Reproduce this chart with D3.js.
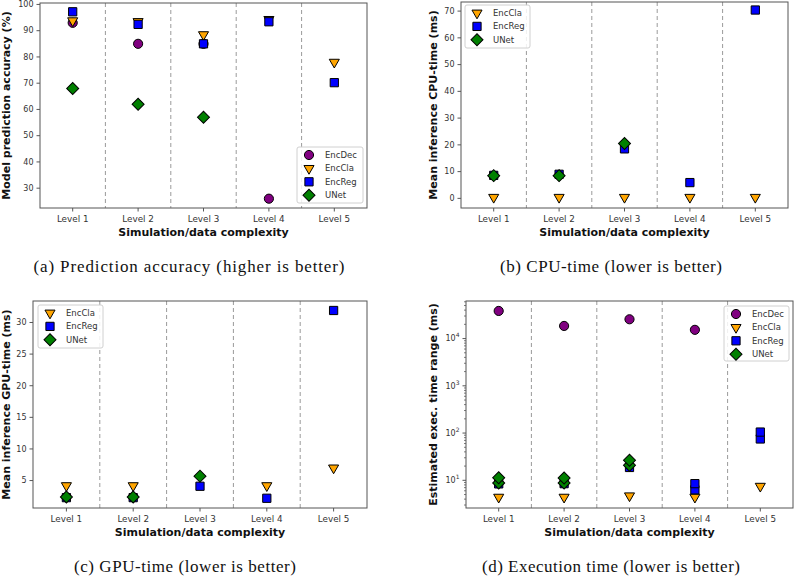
<!DOCTYPE html>
<html><head><meta charset="utf-8">
<script src="https://cdn.jsdelivr.net/npm/d3@7"></script>
<style>body{margin:0;background:#fff}svg{display:block}</style>
</head><body>
<script>
// ---------------- DATA ----------------
const levels = ["Level 1", "Level 2", "Level 3", "Level 4", "Level 5"];
const seriesNames = ["EncDec", "EncCla", "EncReg", "UNet"];

// (a) prediction accuracy (%)
const accEncDec = [93, 85, 85, 26, null];
const accEncCla = [93.8, 93.5, 88.5, 94.3, 78];
const accEncReg = [97.2, 92.4, 85, 93.4, 70.2];
const accUNet   = [68, 62, 57, null, null];

// (b) CPU-time (ms)
const cpuEncCla = [0.4, 0.4, 0.4, 0.4, 0.4];
const cpuEncReg = [8.6, 9.0, 18.5, 5.9, 70.4];
const cpuUNet   = [8.5, 8.5, 20.5, null, null];

// (c) GPU-time (ms)
const gpuEncCla = [4.2, 4.2, null, 4.2, 7.0];
const gpuEncReg = [2.3, 2.3, 4.1, 2.2, 31.9];
const gpuUNet   = [2.4, 2.4, 5.7, null, null];

// (d) execution time range (ms), several points per level
const execEncDec = [[38400], [18500], [25600], [15300], []];
const execEncCla = [[4.4], [4.4], [4.7], [4.4], [7.5]];
const execEncReg = [[8.4], [8.5], [18.7], [6.3, 8.5], [75, 105]];
const execUNet   = [[8.8, 11.3], [8.8, 11.2], [20.8, 26.5], [], []];

const accTicks = [30, 40, 50, 60, 70, 80, 90, 100];
const cpuTicks = [0, 10, 20, 30, 40, 50, 60, 70];
const gpuTicks = [5, 10, 15, 20, 25, 30];
const execTicks = [1, 2, 3, 4]; // exponents of 10

// ---------------- STYLE ----------------
const styles = {
  EncDec: {color: "#800080", shape: "circle"},
  EncCla: {color: "#FFA500", shape: "tri"},
  EncReg: {color: "#0000FF", shape: "square"},
  UNet:   {color: "#008000", shape: "diamond"}
};
const sym = {
  circle: d3.symbol(d3.symbolCircle, 66)(),
  tri: d3.symbol(d3.symbolTriangle, 44)(),
  square: d3.symbol(d3.symbolSquare, 68)(),
  diamond: d3.symbol(d3.symbolSquare, 72)()
};
const rot = {circle: 0, tri: 180, square: 0, diamond: 45};
const SANS = "DejaVu Sans, sans-serif";

const svg = d3.select("body").append("svg").attr("width", 795).attr("height", 576);

function drawMarker(g, name, x, y) {
  const s = styles[name];
  g.append("path").attr("d", sym[s.shape])
    .attr("transform", `translate(${x},${y}) rotate(${rot[s.shape]})`)
    .attr("fill", s.color).attr("stroke", "#000").attr("stroke-width", 1);
}

function panel(o) {
  const g = svg.append("g");
  const x = d3.scaleLinear().domain([-0.5, 4.5]).range([o.left, o.right]);
  const y = o.y;
  // dividers
  [0.5, 1.5, 2.5, 3.5].forEach(v => {
    g.append("line").attr("x1", x(v)).attr("x2", x(v)).attr("y1", o.top).attr("y2", o.bottom)
      .attr("stroke", "#9a9a9a").attr("stroke-width", 1).attr("stroke-dasharray", "4,3");
  });
  // y ticks
  o.yTicks.forEach(t => {
    const yy = y(t.v);
    g.append("line").attr("x1", o.left - 3.5).attr("x2", o.left).attr("y1", yy).attr("y2", yy)
      .attr("stroke", "#444").attr("stroke-width", 0.9);
    const tx = g.append("text").attr("x", o.left - 6.5).attr("y", yy).attr("dy", "0.35em")
      .attr("text-anchor", "end").attr("font-family", SANS).attr("font-size", 8).attr("fill", "#333");
    if (t.exp !== undefined) {
      tx.append("tspan").text("10");
      tx.append("tspan").attr("dy", -4).attr("font-size", 6).text(t.exp);
    } else tx.text(t.label);
  });
  (o.minor || []).forEach(v => {
    const yy = y(v);
    g.append("line").attr("x1", o.left - 2).attr("x2", o.left).attr("y1", yy).attr("y2", yy)
      .attr("stroke", "#444").attr("stroke-width", 0.7);
  });
  // x ticks
  levels.forEach((l, i) => {
    g.append("line").attr("x1", x(i)).attr("x2", x(i)).attr("y1", o.bottom).attr("y2", o.bottom + 3.5)
      .attr("stroke", "#444").attr("stroke-width", 0.9);
    g.append("text").attr("x", x(i)).attr("y", o.bottom + 13.5).attr("text-anchor", "middle")
      .attr("font-family", SANS).attr("font-size", 8.8).attr("fill", "#333").text(l);
  });
  // points
  o.series.forEach(s => {
    s.values.forEach((v, i) => {
      const arr = v == null ? [] : (Array.isArray(v) ? v : [v]);
      arr.forEach(val => drawMarker(g, s.name, x(i), y(val)));
    });
  });
  // frame
  g.append("rect").attr("x", o.left).attr("y", o.top).attr("width", o.right - o.left)
    .attr("height", o.bottom - o.top).attr("fill", "none").attr("stroke", "#555").attr("stroke-width", 1);
  // labels
  g.append("text").attr("x", (o.left + o.right) / 2).attr("y", o.bottom + 27.5)
    .attr("text-anchor", "middle").attr("font-family", SANS).attr("font-weight", "bold")
    .attr("font-size", 11).attr("fill", "#111").text("Simulation/data complexity");
  g.append("text").attr("transform", `translate(${o.ylx},${(o.top + o.bottom) / 2}) rotate(-90)`)
    .attr("text-anchor", "middle").attr("dy", "0.35em").attr("font-family", SANS)
    .attr("font-weight", "bold").attr("font-size", 11).attr("fill", "#111").text(o.ylabel);
  // legend
  const L = o.legend;
  g.append("rect").attr("x", L.x).attr("y", L.y).attr("width", L.w).attr("height", L.h)
    .attr("rx", 2).attr("fill", "#fff").attr("fill-opacity", 0.85).attr("stroke", "#d0d0d0");
  o.series.forEach((s, k) => {
    const ly = L.y + 8 + k * 13.4;
    drawMarker(g, s.name, L.x + 12, ly);
    g.append("text").attr("x", L.x + 28).attr("y", ly).attr("dy", "0.35em")
      .attr("font-family", SANS).attr("font-size", 8.5).attr("fill", "#333").text(s.name);
  });
  // caption
  svg.append("text").attr("x", o.capX).attr("y", o.capY).attr("text-anchor", "middle")
    .attr("font-family", "Liberation Serif, serif").attr("font-size", 17).attr("fill", "#111")
    .attr("textLength", o.capW).attr("lengthAdjust", "spacing").text(o.caption);
}

panel({
  left: 40, right: 367, top: 3, bottom: 208,
  y: d3.scaleLinear().domain([22.45, 100.55]).range([208, 3]),
  yTicks: accTicks.map(v => ({v, label: String(v)})),
  series: [
    {name: "EncDec", values: accEncDec}, {name: "EncCla", values: accEncCla},
    {name: "EncReg", values: accEncReg}, {name: "UNet", values: accUNet}],
  legend: {x: 297, y: 147, w: 66, h: 56},
  ylabel: "Model prediction accuracy (%)", ylx: 6,
  caption: "(a) Prediction accuracy (higher is better)", capX: 189, capY: 272, capW: 311
});

panel({
  left: 461, right: 788, top: 2, bottom: 208,
  y: d3.scaleLinear().domain([-3.6, 73.4]).range([208, 2]),
  yTicks: cpuTicks.map(v => ({v, label: String(v)})),
  series: [{name: "EncCla", values: cpuEncCla}, {name: "EncReg", values: cpuEncReg},
           {name: "UNet", values: cpuUNet}],
  legend: {x: 465, y: 5, w: 65, h: 43},
  ylabel: "Mean inference CPU-time (ms)", ylx: 433,
  caption: "(b) CPU-time (lower is better)", capX: 611, capY: 272, capW: 222
});

panel({
  left: 33, right: 367, top: 301, bottom: 508,
  y: d3.scaleLinear().domain([0.66, 33.4]).range([508, 301]),
  yTicks: gpuTicks.map(v => ({v, label: String(v)})),
  series: [{name: "EncCla", values: gpuEncCla}, {name: "EncReg", values: gpuEncReg},
           {name: "UNet", values: gpuUNet}],
  legend: {x: 38, y: 305, w: 65, h: 43},
  ylabel: "Mean inference GPU-time (ms)", ylx: 6,
  caption: "(c) GPU-time (lower is better)", capX: 185, capY: 572, capW: 222
});

const yLog = d3.scaleLog().domain([Math.pow(10, 0.414), Math.pow(10, 4.795)]).range([508, 301]);
const minor = [];
for (let k = 0; k <= 4; k++) for (let m = 2; m <= 9; m++) {
  const v = m * Math.pow(10, k);
  if (v > yLog.domain()[0] && v < yLog.domain()[1]) minor.push(v);
}
panel({
  left: 466, right: 793, top: 301, bottom: 508,
  y: yLog,
  yTicks: execTicks.map(e => ({v: Math.pow(10, e), exp: String(e)})),
  minor,
  series: [
    {name: "EncDec", values: execEncDec}, {name: "EncCla", values: execEncCla},
    {name: "EncReg", values: execEncReg}, {name: "UNet", values: execUNet}],
  legend: {x: 724, y: 306, w: 65, h: 55},
  ylabel: "Estimated exec. time range (ms)", ylx: 433,
  caption: "(d) Execution time (lower is better)", capX: 611, capY: 572, capW: 258
});
</script>
</body></html>
